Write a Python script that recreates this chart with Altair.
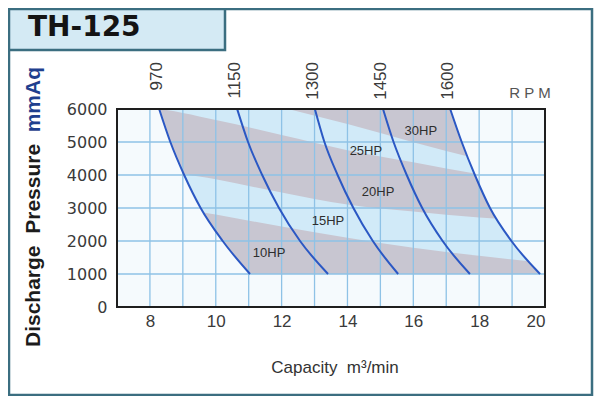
import altair as alt
import pandas as pd

# ---------------- data ----------------
pressure = [6000, 5000, 4000, 3000, 2000, 1000]
rpm_labels = ["970", "1150", "1300", "1450", "1600"]
q_970 = [8.28, 8.62, 9.04, 9.54, 10.21, 11.04]
q_1150 = [10.65, 10.98, 11.41, 11.92, 12.56, 13.41]
q_1300 = [13.01, 13.30, 13.70, 14.18, 14.77, 15.54]
q_1450 = [15.08, 15.40, 15.80, 16.27, 16.89, 17.72]
q_1600 = [17.12, 17.47, 17.87, 18.33, 18.98, 19.85]
curves = [q_970, q_1150, q_1300, q_1450, q_1600]

band_q = [7, 8, 10, 12, 14, 16, 18, 20]
hp10_top = [3500, 3168, 2802, 2437, 2102, 1797, 1553, 1340]
hp10_bottom = [1000, 1000, 1000, 1000, 1000, 1000, 1000, 1000]
hp20_top = [6000, 6000, 5666, 5209, 4752, 4386, 4021, 3716]
hp20_bottom = [4650, 4264, 3868, 3472, 3107, 2894, 2711, 2589]
hp30_q = [12.2, 14, 16, 18, 20]
hp30_top = [6000, 6000, 6000, 6000, 6000]
hp30_bottom = [6000, 5544, 4995, 4478, 4021]

hp_labels = ["10HP", "15HP", "20HP", "25HP", "30HP"]
hp_label_q = [11.62, 13.41, 14.93, 14.56, 16.23]
hp_label_p = [1645, 2619, 3472, 4721, 5330]

x_ticks = [8, 10, 12, 14, 16, 18, 20]
y_ticks = [0, 1000, 2000, 3000, 4000, 5000, 6000]
grid_q = [8, 9, 10, 11, 12, 13, 14, 15, 16, 17, 18, 19]
grid_p = [1000, 2000, 3000, 4000, 5000]

# ---------------- styling ----------------
W, H = 428, 198
ENV = "#d1eaf8"
BAND = "#c8c6d1"
BG = "#f5fafd"
GRID = "#8ec2e6"
CURVE = "#2b58c4"
FRAME = "#3b6e80"
NB = "\u00a0"

xs = alt.Scale(domain=[7, 20], nice=False, zero=False)
ys = alt.Scale(domain=[0, 6000], nice=False, zero=False)
AX_X = alt.Axis(values=x_ticks, title=None, ticks=False, domain=False, grid=False, format="d",
                labelFont="Liberation Sans Narrow, Liberation Sans", labelFontSize=17,
                labelColor="#3a3a3a", labelPadding=6)
AX_Y = alt.Axis(values=y_ticks, title=None, ticks=False, domain=False, grid=False, format="d",
                labelFont="DejaVu Sans", labelFontSize=16, labelColor="#3a3a3a",
                labelPadding=10)


def X(f):
    return alt.X(f, type="quantitative", scale=xs, axis=AX_X)


def Y(f):
    return alt.Y(f, type="quantitative", scale=ys, axis=AX_Y)


dummy = pd.DataFrame({"d": [0]})

env_df = pd.DataFrame({"p": pressure, "qa": q_970, "qb": q_1600})
envelope = alt.Chart(env_df).mark_area(orient="horizontal", interpolate="monotone", color=ENV).encode(
    y=Y("p"), x=X("qa"), x2="qb")

bands_df = pd.concat([
    pd.DataFrame({"band": "10", "q": band_q, "top": hp10_top, "bot": hp10_bottom}),
    pd.DataFrame({"band": "20", "q": band_q, "top": hp20_top, "bot": hp20_bottom}),
    pd.DataFrame({"band": "30", "q": hp30_q, "top": hp30_top, "bot": hp30_bottom}),
])
bands = alt.Chart(bands_df).mark_area(interpolate="monotone", color=BAND, clip=True).encode(
    x=X("q"), y=Y("top"), y2="bot", detail="band:N")

mask_l = alt.Chart(pd.DataFrame({"p": pressure, "q": q_970})).mark_area(
    orient="horizontal", interpolate="monotone", color=BG).encode(
    y=Y("p"), x=X("q"), x2=alt.datum(7))
mask_r = alt.Chart(pd.DataFrame({"p": pressure, "q": q_1600})).mark_area(
    orient="horizontal", interpolate="monotone", color=BG).encode(
    y=Y("p"), x=X("q"), x2=alt.datum(20))

vgrid = alt.Chart(pd.DataFrame({"q": grid_q})).mark_rule(color=GRID, strokeWidth=1.3).encode(x=X("q"))
hgrid = alt.Chart(pd.DataFrame({"p": grid_p})).mark_rule(color=GRID, strokeWidth=1.6).encode(y=Y("p"))

border = alt.Chart(dummy).mark_rect(fillOpacity=0, stroke="#1e1e1e", strokeWidth=2).encode(
    x=alt.value(0), x2=alt.value(W), y=alt.value(0), y2=alt.value(H))

rows = []
for lab, qs in zip(rpm_labels, curves):
    for p, q in zip(pressure, qs):
        rows.append({"rpm": lab, "p": p, "q": q})
curve_df = pd.DataFrame(rows)
lines = alt.Chart(curve_df).mark_line(color=CURVE, strokeWidth=2, interpolate="monotone").encode(
    x=X("q"), y=Y("p"), detail="rpm:N")

rpm_df = pd.DataFrame({"rpm": rpm_labels, "q": [c[0] for c in curves]})
rpm_text = alt.Chart(rpm_df).mark_text(angle=270, align="right", baseline="middle", dy=-2,
                                       font="Liberation Sans", fontSize=17, color="#3a3a3a").encode(
    x=X("q"), y=alt.value(-47), text="rpm:N")

hp_df = pd.DataFrame({"t": hp_labels, "q": hp_label_q, "p": hp_label_p})
hp_text = alt.Chart(hp_df).mark_text(font="Liberation Sans", fontSize=13, color="#2e2e2e").encode(
    x=X("q"), y=Y("p"), text="t:N")

# ---------------- decorations (frame, title box, titles) ----------------
frame = alt.Chart(dummy).mark_rect(fillOpacity=0, stroke=FRAME, strokeWidth=2.5).encode(
    x=alt.value(-108), x2=alt.value(475), y=alt.value(-100), y2=alt.value(286))
title_box = alt.Chart(dummy).mark_rect(fill="#d4eaf4", stroke=FRAME, strokeWidth=2.5).encode(
    x=alt.value(-108), x2=alt.value(108), y=alt.value(-100), y2=alt.value(-59))
title = alt.Chart(dummy).mark_text(text="TH-125", font="DejaVu Sans", fontWeight="bold", fontSize=28,
                                   color="#141414", align="left", baseline="middle").encode(
    x=alt.value(-89), y=alt.value(-81))
rpm_word = alt.Chart(dummy).mark_text(text=f"R{NB}P{NB}M", font="Liberation Sans", fontSize=15,
                                      color="#555555", align="center", baseline="middle").encode(
    x=alt.value(413), y=alt.value(-16))
x_title = alt.Chart(dummy).mark_text(text=f"Capacity{NB}{NB}m³/min", font="Liberation Sans", fontSize=17,
                                     color="#333333", align="center", baseline="middle").encode(
    x=alt.value(218), y=alt.value(259))
y_title1 = alt.Chart(dummy).mark_text(text=f"Discharge{NB}{NB}Pressure", font="Liberation Sans",
                                      fontWeight="bold", fontSize=21, color="#1c1c1c", angle=270,
                                      align="left", baseline="middle").encode(
    x=alt.value(-83), y=alt.value(238))
y_title2 = alt.Chart(dummy).mark_text(text="mmAq", font="Liberation Sans", fontWeight="bold",
                                      fontSize=21, color="#1f3f8e", angle=270, align="right",
                                      baseline="middle").encode(x=alt.value(-83), y=alt.value(-42))

chart = alt.layer(
    envelope, bands, mask_l, mask_r, vgrid, hgrid, lines, border, rpm_text, hp_text,
    frame, title_box, title, rpm_word, x_title, y_title1, y_title2,
).properties(
    width=W, height=H, autosize="none",
    padding={"left": 109, "top": 101, "right": 49, "bottom": 89},
).configure_view(stroke=None, fill=BG)

chart.save("out.html", embed_options={"renderer": "svg", "actions": False})
